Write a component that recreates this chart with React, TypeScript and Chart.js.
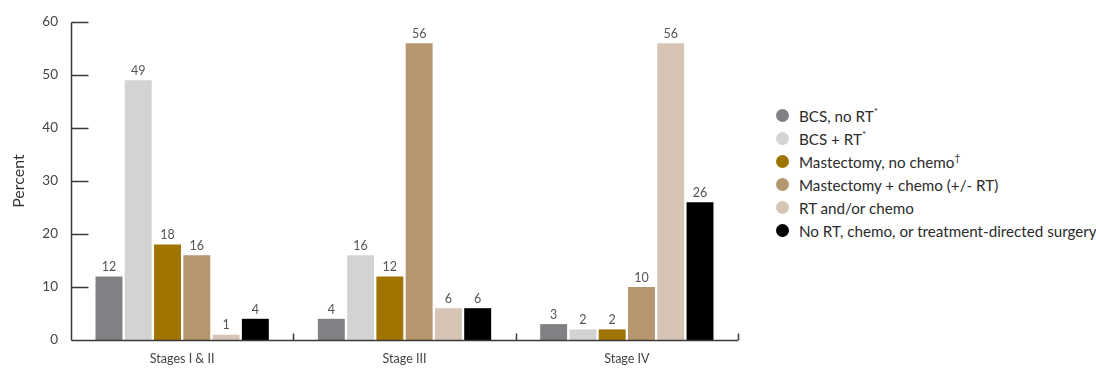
import React, { useEffect, useRef } from "react";
import { Chart, registerables } from "chart.js";

Chart.register(...registerables);

// Stage groups on the x axis
const stages = ["Stages I & II", "Stage III", "Stage IV"];

// Percent of patients by treatment, one value per stage group
const bcsNoRt = [12, 4, 3];
const bcsRt = [49, 16, 2];
const mastNoChemo = [18, 12, 2];
const mastChemo = [16, 56, 10];
const rtOrChemo = [1, 6, 56];
const noTreatment = [4, 6, 26];

const yMax = 60;
const yStep = 10;

const seriesNames = [
  "BCS, no RT",
  "BCS + RT",
  "Mastectomy, no chemo",
  "Mastectomy + chemo (+/- RT)",
  "RT and/or chemo",
  "No RT, chemo, or treatment-directed surgery",
];
const seriesMarks = ["*", "*", "†", "", "", ""];
const seriesColors = ["#808184", "#d1d3d4", "#a07400", "#b5966e", "#d6c5b5", "#000000"];
const seriesValues = [bcsNoRt, bcsRt, mastNoChemo, mastChemo, rtOrChemo, noTreatment];

const FONT = "Lato, 'Noto Sans', sans-serif";

// Axis lines with inward-pointing ticks
const axisLines = {
  id: "axisLines",
  afterDraw(chart: any) {
    const { ctx, chartArea, scales } = chart;
    const xs = scales.x;
    const ys = scales.y;
    const left = Math.round(chartArea.left) + 0.5;
    const bottom = Math.round(ys.getPixelForValue(0)) + 0.5;
    ctx.save();
    ctx.strokeStyle = "#3a3a3a";
    ctx.lineWidth = 1.5;
    ctx.beginPath();
    ctx.moveTo(left, Math.round(ys.getPixelForValue(yMax)) + 0.5);
    ctx.lineTo(left, bottom);
    ys.ticks.forEach((t: any) => {
      const py = Math.round(ys.getPixelForValue(t.value)) + 0.5;
      ctx.moveTo(left, py);
      ctx.lineTo(left + 17, py);
    });
    ctx.moveTo(left, bottom);
    ctx.lineTo(chartArea.right, bottom);
    const n = stages.length;
    const catW = (xs.right - xs.left) / n;
    for (let i = 1; i <= n; i++) {
      const bx = Math.round(xs.left + catW * i) + 0.5;
      ctx.moveTo(bx, bottom);
      ctx.lineTo(bx, bottom - 7);
    }
    ctx.stroke();
    ctx.restore();
  },
};

// Value labels above each bar
const valueLabels = {
  id: "valueLabels",
  afterDatasetsDraw(chart: any) {
    const { ctx } = chart;
    ctx.save();
    ctx.fillStyle = "#555555";
    ctx.font = `12.5px ${FONT}`;
    ctx.textAlign = "center";
    ctx.textBaseline = "bottom";
    chart.data.datasets.forEach((ds: any, di: number) => {
      const meta = chart.getDatasetMeta(di);
      meta.data.forEach((el: any, i: number) => {
        ctx.fillText(String(ds.data[i]), el.x, el.y - 3);
      });
    });
    ctx.restore();
  },
};

export default function App() {
  const canvasRef = useRef<HTMLCanvasElement | null>(null);

  useEffect(() => {
    document.body.style.margin = "0";
    const canvas = canvasRef.current;
    if (!canvas) return;
    const chart = new Chart(canvas, {
      type: "bar",
      data: {
        labels: stages,
        datasets: seriesValues.map((vals, i) => ({
          label: seriesNames[i],
          data: vals,
          backgroundColor: seriesColors[i],
          borderWidth: 0,
          barPercentage: 0.92,
          categoryPercentage: 0.79,
        })),
      },
      options: {
        animation: false,
        responsive: false,
        maintainAspectRatio: false,
        layout: { padding: { left: 0, right: 22, top: 22, bottom: 0 } },
        plugins: {
          legend: { display: false },
          tooltip: { enabled: false },
        },
        scales: {
          x: {
            grid: { display: false },
            border: { display: false },
            ticks: {
              color: "#444444",
              font: { family: FONT, size: 12.5 },
              padding: 3,
            },
            afterFit(scale: any) {
              scale.height = 28;
            },
          },
          y: {
            min: 0,
            max: yMax,
            grid: { display: false },
            border: { display: false },
            ticks: {
              stepSize: yStep,
              color: "#444444",
              font: { family: FONT, size: 13.5 },
              padding: 5,
            },
            title: {
              display: true,
              text: "Percent",
              color: "#333333",
              font: { family: FONT, size: 16 },
              padding: { top: 9, bottom: 0 },
            },
            afterFit(scale: any) {
              scale.width = 71;
            },
          },
        },
      },
      plugins: [axisLines, valueLabels],
    });
    return () => chart.destroy();
  }, []);

  return (
    <div style={{ position: "relative", width: 1096, height: 368, background: "#fff" }}>
      <canvas ref={canvasRef} width={760} height={368} style={{ position: "absolute", left: 0, top: 0 }} />
      <div style={{ position: "absolute", left: 776, top: 104, fontFamily: FONT, fontSize: 15.2, color: "#2b2b2b" }}>
        {seriesNames.map((name, i) => (
          <div key={name} style={{ display: "flex", alignItems: "center", height: 23, whiteSpace: "nowrap" }}>
            <span
              style={{
                display: "inline-block",
                width: 13,
                height: 13,
                borderRadius: "50%",
                background: seriesColors[i],
                marginRight: 10,
              }}
            />
            <span>
              {name}
              {seriesMarks[i] && (
                <sup style={{ fontSize: 10, verticalAlign: "top", position: "relative", top: -2 }}>{seriesMarks[i]}</sup>
              )}
            </span>
          </div>
        ))}
      </div>
    </div>
  );
}
